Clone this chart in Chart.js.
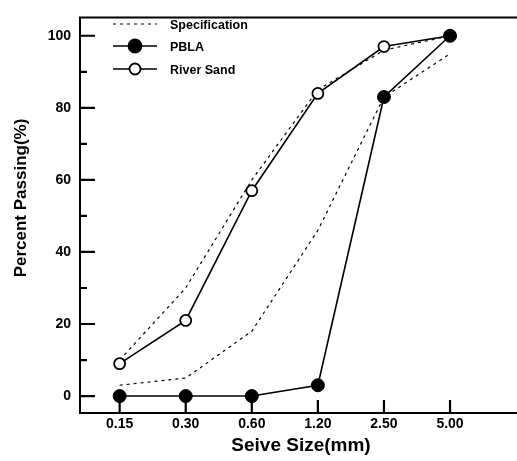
<!DOCTYPE html>
<html>
<head>
<meta charset="utf-8">
<script src="https://cdn.jsdelivr.net/npm/chart.js@4"></script>
<style>
  html, body { margin: 0; padding: 0; background: #fff; }
  #wrap { width: 517px; height: 461px; }
</style>
</head>
<body>
<div id="wrap"><canvas id="gradingChart" width="517" height="461"></canvas></div>
<script>
// Sieve sizes (categories) and percent passing values
const sizes = ['0.15', '0.30', '0.60', '1.20', '2.50', '5.00'];
const pbla = [0, 0, 0, 3, 83, 100];
const riverSand = [9, 21, 57, 84, 97, 100];
const specUpper = [10, 30, 60, 85, 96, 100];
const specLower = [3, 5, 18, 46, 83, 95];
const yTicks = [0, 20, 40, 60, 80, 100];
const yMinorTicks = [10, 30, 50, 70, 90];

const FONT = '"Liberation Sans", Arial, sans-serif';
const xTitle = 'Seive Size(mm)';
const yTitle = 'Percent Passing(%)';

function toPoints(values) {
    return values.map((v, i) => ({ x: i, y: v }));
}

// Frame, inward tick marks, axis titles and the in-plot legend
const framePlugin = {
    id: 'frame',
    afterDatasetsDraw(chart) {
        const { ctx, chartArea: a, scales: { x, y } } = chart;
        ctx.save();
        ctx.strokeStyle = '#000';
        ctx.setLineDash([]);
        ctx.lineWidth = 2;
        ctx.beginPath();
        ctx.moveTo(chart.width, a.top);
        ctx.lineTo(a.left, a.top);
        ctx.lineTo(a.left, a.bottom);
        ctx.lineTo(chart.width, a.bottom);
        ctx.stroke();

        ctx.lineWidth = 2.2;
        ctx.beginPath();
        yTicks.forEach(v => {
            const py = y.getPixelForValue(v);
            ctx.moveTo(a.left, py);
            ctx.lineTo(a.left + 15, py);
        });
        yMinorTicks.forEach(v => {
            const py = y.getPixelForValue(v);
            ctx.moveTo(a.left, py);
            ctx.lineTo(a.left + 7, py);
        });
        sizes.forEach((s, i) => {
            const px = x.getPixelForValue(i);
            ctx.moveTo(px, a.bottom);
            ctx.lineTo(px, a.bottom - 13);
        });
        ctx.stroke();
        ctx.restore();
    },
    afterDraw(chart) {
        const { ctx } = chart;
        ctx.save();
        ctx.fillStyle = '#000';
        ctx.textAlign = 'center';
        ctx.textBaseline = 'middle';
        ctx.font = 'bold 19px ' + FONT;
        ctx.fillText(xTitle, 301, 446);
        ctx.save();
        ctx.translate(21, 198);
        ctx.rotate(-Math.PI / 2);
        ctx.font = 'bold 17px ' + FONT;
        ctx.fillText(yTitle, 0, 0);
        ctx.restore();

        const items = [
            { label: 'Specification', dash: [3, 4], point: null },
            { label: 'PBLA', dash: [], point: 'filled' },
            { label: 'River Sand', dash: [], point: 'open' }
        ];
        const rowY = [24, 46, 69];
        items.forEach((it, k) => {
            const yy = rowY[k];
            ctx.strokeStyle = '#000';
            ctx.lineWidth = it.point ? 1.6 : 1.2;
            ctx.setLineDash(it.dash);
            ctx.beginPath();
            ctx.moveTo(113, yy);
            ctx.lineTo(157, yy);
            ctx.stroke();
            ctx.setLineDash([]);
            if (it.point) {
                ctx.beginPath();
                ctx.arc(135, yy, it.point === 'filled' ? 6.5 : 5.5, 0, Math.PI * 2);
                ctx.fillStyle = it.point === 'filled' ? '#000' : '#fff';
                ctx.fill();
                ctx.lineWidth = 1.8;
                ctx.stroke();
            }
            ctx.fillStyle = '#000';
            ctx.font = 'bold 12.5px ' + FONT;
            ctx.textAlign = 'left';
            ctx.textBaseline = 'middle';
            ctx.fillText(it.label, 170, yy + 1.5);
        });
        ctx.restore();
    }
};

const ctx = document.getElementById('gradingChart');
new Chart(ctx, {
    type: 'line',
    data: {
        datasets: [
            {
                label: 'PBLA',
                data: toPoints(pbla),
                borderColor: '#000',
                borderWidth: 1.6,
                pointRadius: 6.5,
                pointBorderWidth: 1,
                pointBackgroundColor: '#000',
                pointBorderColor: '#000',
                fill: false,
                tension: 0
            },
            {
                label: 'River Sand',
                data: toPoints(riverSand),
                borderColor: '#000',
                borderWidth: 1.6,
                pointRadius: 5.5,
                pointBorderWidth: 1.8,
                pointBackgroundColor: '#fff',
                pointBorderColor: '#000',
                fill: false,
                tension: 0
            },
            {
                label: 'Specification',
                data: toPoints(specUpper),
                borderColor: '#000',
                borderWidth: 1.2,
                borderDash: [3, 4],
                pointRadius: 0,
                fill: false,
                tension: 0
            },
            {
                label: 'Specification (lower)',
                data: toPoints(specLower),
                borderColor: '#000',
                borderWidth: 1.2,
                borderDash: [3, 4],
                pointRadius: 0,
                fill: false,
                tension: 0
            }
        ]
    },
    options: {
        responsive: false,
        animation: false,
        layout: { padding: { top: 5, left: 0, right: 0, bottom: 0 } },
        plugins: {
            legend: { display: false },
            tooltip: { enabled: false }
        },
        scales: {
            x: {
                type: 'linear',
                min: -0.6,
                max: 5.9,
                border: { display: false },
                grid: { display: false, drawTicks: false },
                afterBuildTicks: scale => {
                    scale.ticks = sizes.map((s, i) => ({ value: i }));
                },
                afterFit: scale => { scale.height = 48; },
                ticks: {
                    padding: 3,
                    color: '#000',
                    font: { family: FONT, size: 14, weight: 'bold' },
                    callback: value => sizes[value]
                }
            },
            y: {
                min: -4.7,
                max: 105.1,
                border: { display: false },
                grid: { display: false, drawTicks: false },
                afterBuildTicks: scale => {
                    scale.ticks = yTicks.map(v => ({ value: v }));
                },
                afterFit: scale => { scale.width = 80; },
                ticks: {
                    padding: 9,
                    color: '#000',
                    font: { family: FONT, size: 14, weight: 'bold' }
                }
            }
        }
    },
    plugins: [framePlugin]
});
</script>
</body>
</html>
